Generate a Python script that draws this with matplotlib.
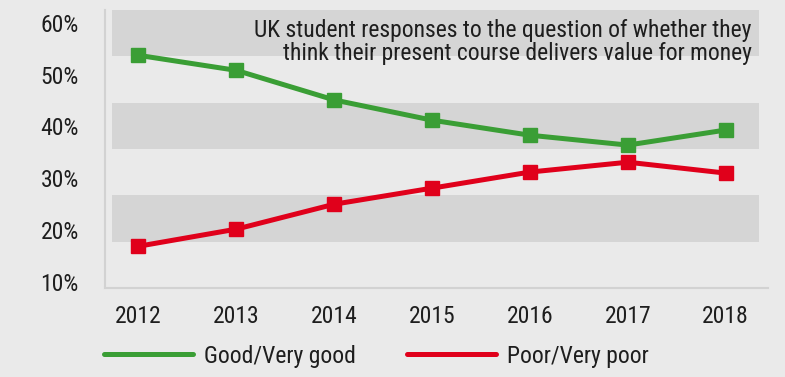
import matplotlib.pyplot as plt
from matplotlib import font_manager

years = [2012, 2013, 2014, 2015, 2016, 2017, 2018]
good = [53.7, 50.8, 45.1, 41.2, 38.3, 36.4, 39.3]
poor = [16.9, 20.2, 25.0, 28.1, 31.2, 33.1, 31.0]
y_ticks = [10, 20, 30, 40, 50, 60]
title = ("UK student responses to the question of whether they\n"
         "think their present course delivers value for money")

# the original uses a condensed sans, pick one if there is any
files = [f.fname for f in font_manager.fontManager.ttflist]
pick = None
for key in ['RobotoCondensed-Regular', 'Roboto_Condensed-Regular', 'LiberationSansNarrow-Regular',
            'DejaVuSansCondensed.ttf', 'OpenSans_Condensed-Regular', 'OpenSansCondensed']:
    hits = [p for p in files if key in p]
    if hits:
        pick = hits[0]
        break
if pick:
    font_manager.fontManager.addfont(pick)
    name = font_manager.FontProperties(fname=pick).get_name()
    plt.rcParams['font.family'] = [name, 'DejaVu Sans']
    plt.rcParams['font.stretch'] = 'condensed'
else:
    plt.rcParams['font.family'] = ['DejaVu Sans']

BG = '#eaeaea'
BAND = '#d5d5d5'
GREEN = '#3a9e35'
RED = '#e0001b'
TXT = '#1e1e1e'
FS = 17

fig = plt.figure(figsize=(7.85, 3.77), dpi=100, facecolor=BG)
ax = fig.add_axes([0.134, 0.236, 0.844, 0.737])
ax.set_facecolor(BG)

y0, y1 = 8.85, 62.4
step = (y1 - y0) / 6
for i in (1, 3, 5):
    ax.axhspan(y0 + i * step, y0 + (i + 1) * step, xmin=0.01, xmax=0.987,
               color=BAND, lw=0, zorder=0)

ax.plot(years, good, color=GREEN, lw=3.6, marker='s', ms=10, label='Good/Very good', zorder=3)
ax.plot(years, poor, color=RED, lw=3.6, marker='s', ms=10, label='Poor/Very poor', zorder=3)

ax.set_xlim(2011.66, 2018.43)
ax.set_ylim(y0, y1)
ax.set_xticks(years)
ax.set_yticks(y_ticks)
ax.set_yticklabels([f'{v}%' for v in y_ticks])
ax.tick_params(length=0, labelsize=FS, colors=TXT)
ax.tick_params(axis='x', pad=12)
ax.tick_params(axis='y', pad=19)

for s in ['top', 'right']:
    ax.spines[s].set_visible(False)
for s in ['left', 'bottom']:
    ax.spines[s].set_color('#d2d2d2')
    ax.spines[s].set_linewidth(1.5)

fig.text(752 / 785, 1 - 19 / 377, title, ha='right', va='top',
         fontsize=FS, color=TXT, linespacing=1.0)

leg = fig.legend(loc='center left', bbox_to_anchor=(104 / 785, 1 - 356 / 377),
                 bbox_transform=fig.transFigure, ncol=2, frameon=False,
                 fontsize=FS, handlelength=3.75, handletextpad=0.5, columnspacing=2.15,
                 borderpad=0, borderaxespad=0)
for h in leg.get_lines():
    h.set_marker('')
    h.set_linewidth(3.6)
    h.set_solid_capstyle('round')
for t in leg.get_texts():
    t.set_color(TXT)

fig.savefig('out.png', dpi=100, facecolor=BG)
